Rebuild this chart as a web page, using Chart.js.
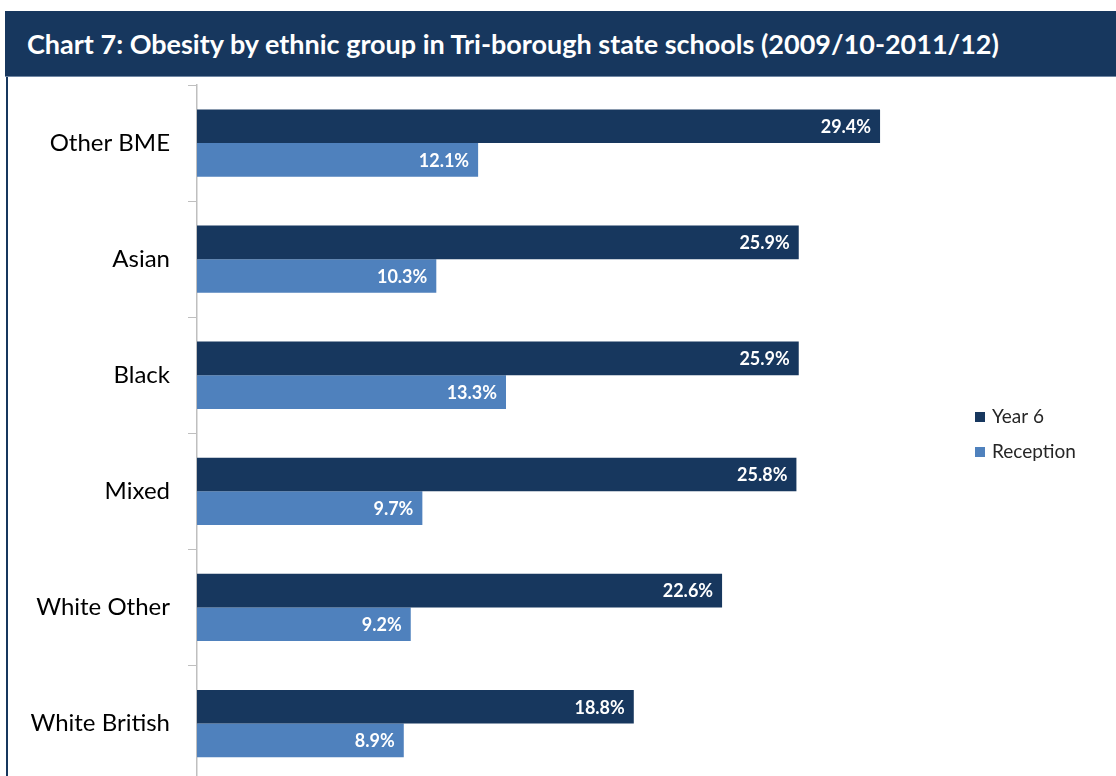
<!DOCTYPE html>
<html>
<head>
<meta charset="utf-8">
<script src="https://cdn.jsdelivr.net/npm/chart.js@4"></script>
<style>
  html,body{margin:0;padding:0;background:#fff;overflow:hidden;}
  body{width:1116px;height:776px;position:relative;}
  #banner{position:absolute;left:5px;top:11px;width:1111px;height:66px;background:#17375E;
    border-bottom:1px solid #6f86a3;color:#fff;font:bold 27px Lato,"Open Sans",sans-serif;
    line-height:66px;padding-left:22px;box-sizing:border-box;white-space:nowrap;}
  #leftline{position:absolute;left:6px;top:77px;width:2px;height:700px;background:#17375E;}
  #wrap{position:absolute;left:0;top:0;width:1116px;height:814px;}
</style>
</head>
<body>
<div id="wrap"><canvas id="obesityChart" width="1116" height="814"></canvas></div>
<div id="banner">Chart 7: Obesity by ethnic group in Tri-borough state schools (2009/10-2011/12)</div>
<div id="leftline"></div>
<script>
const groups=["Other BME","Asian","Black","Mixed","White Other","White British"];
const year6=[29.4,25.9,25.9,25.8,22.6,18.8];
const reception=[12.1,10.3,13.3,9.7,9.2,8.9];

const navy="#17375E";
const blue="#4F81BD";

// white value labels inside the end of each bar
const barLabels={
  id:"barLabels",
  afterDatasetsDraw(chart){
    const ctx=chart.ctx;
    ctx.save();
    ctx.font="bold 18px Lato, 'Open Sans', sans-serif";
    ctx.fillStyle="#fff";
    ctx.textAlign="right";
    ctx.textBaseline="middle";
    chart.data.datasets.forEach((ds,i)=>{
      chart.getDatasetMeta(i).data.forEach((bar,j)=>{
        ctx.fillText(ds.data[j].toFixed(1)+"%",bar.x-9,bar.y+1);
      });
    });
    ctx.restore();
  }
};

// legend on the right, drawn by hand so the plot keeps its width
const sideLegend={
  id:"sideLegend",
  afterDraw(chart){
    const ctx=chart.ctx;
    ctx.save();
    ctx.font="19px Lato, 'Open Sans', sans-serif";
    ctx.textBaseline="middle";
    ctx.textAlign="left";
    let y=417;
    chart.data.datasets.forEach(ds=>{
      ctx.fillStyle=ds.backgroundColor;
      ctx.fillRect(975,y-5,10,10);
      ctx.fillStyle="#262626";
      ctx.fillText(ds.label,992,y);
      y+=35;
    });
    ctx.restore();
  }
};

let obesityChart=new Chart("obesityChart",{
  type:"bar",
  data:{
    labels:groups,
    datasets:[
      {label:"Year 6",data:year6,backgroundColor:navy},
      {label:"Reception",data:reception,backgroundColor:blue}
    ]
  },
  options:{
    indexAxis:"y",
    responsive:false,
    animation:false,
    maintainAspectRatio:false,
    layout:{padding:{top:85,right:222,bottom:3,left:0}},
    datasets:{bar:{categoryPercentage:0.58,barPercentage:1.0}},
    plugins:{legend:{display:false},tooltip:{enabled:false},title:{display:false}},
    scales:{
      x:{display:false,min:0,max:30},
      y:{
        afterFit(scale){scale.width=197;},
        border:{display:true,color:"#BFBFBF",width:1.5},
        grid:{drawOnChartArea:false,tickLength:9,color:"#BFBFBF",offset:true},
        ticks:{color:"#000",padding:18,font:{family:"Lato, 'Open Sans', sans-serif",size:24}}
      }
    }
  },
  plugins:[barLabels,sideLegend]
});
</script>
</body>
</html>
